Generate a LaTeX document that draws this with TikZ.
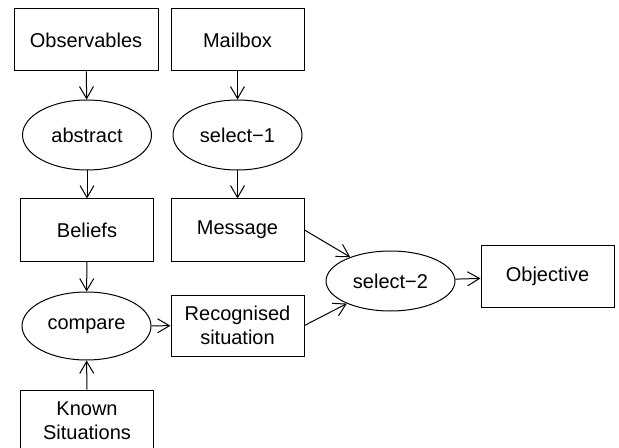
\documentclass[tikz,border=0pt]{standalone}
\usepackage{fontspec}
\setmainfont{Liberation Sans}
\usetikzlibrary{arrows.meta,shapes.geometric}
\begin{document}
\begin{tikzpicture}[x=0.5pt,y=-0.5pt,
 box/.style={draw,rectangle,minimum width=66.5pt,minimum height=31pt,align=center,inner sep=0pt,line width=0.5pt,font=\fontsize{10pt}{12pt}\selectfont},
 ell/.style={draw,ellipse,minimum width=64.5pt,minimum height=35pt,inner sep=0pt,line width=0.5pt,font=\fontsize{10pt}{12pt}\selectfont},
 arr/.style={-{Straight Barb[length=6pt,width=7pt]},line width=0.5pt}]
\useasboundingbox (0,0) rectangle (619,448);
\clip (0,0) rectangle (619,448);
\node[box,minimum width=72pt] (obs) at (86,40) {Observables};
\node[box] (mail) at (237.5,40) {Mailbox};
\node[ell] (abs) at (87,135) {abstract};
\node[ell] (sel1) at (237.5,135) {select−1};
\node[box] (bel) at (87,230) {Beliefs};
\node[box] (msg) at (237.5,230) {Message};
\node[ell,minimum height=34pt] (cmp) at (86.5,326) {compare};
\node[box,minimum height=30.5pt] (rec) at (237.5,325.5) {Recognised\\situation};
\node[box] (known) at (87,421) {Known\\Situations};
\node[ell,minimum height=30pt] (sel2) at (390.5,281) {select−2};
\node[box] (obj) at (547.5,276.5) {Objective};
\draw[arr] (obs) -- (abs);
\draw[arr] (mail) -- (sel1);
\draw[arr] (abs) -- (bel);
\draw[arr] (sel1) -- (msg);
\draw[arr] (bel) -- (cmp);
\draw[arr] (known) -- (cmp);
\draw[arr] (cmp) -- (rec);
\draw[arr] (msg.east) -- (sel2);
\draw[arr] (rec.east) -- (sel2);
\draw[arr] (sel2) -- (obj);
\end{tikzpicture}
\end{document}
